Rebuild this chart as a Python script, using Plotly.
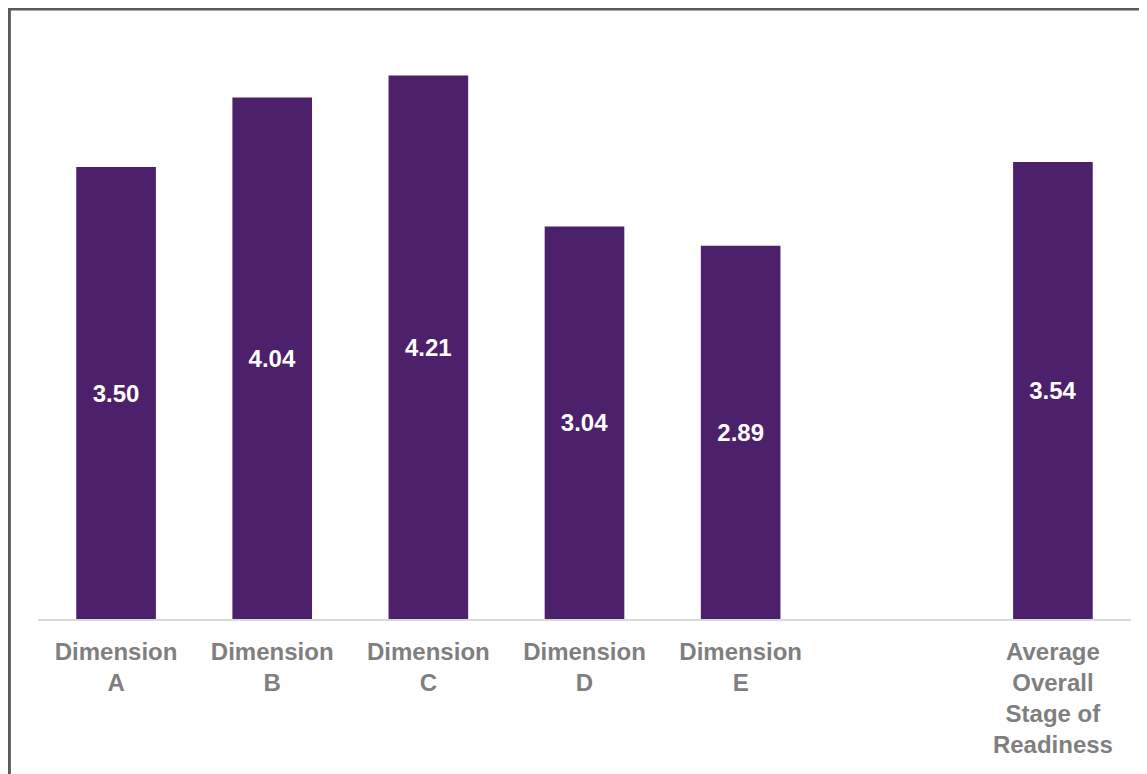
import plotly.graph_objects as go

categories = ["Dimension<br>A", "Dimension<br>B", "Dimension<br>C", "Dimension<br>D",
              "Dimension<br>E", " ", "Average<br>Overall<br>Stage of<br>Readiness"]
values = [3.50, 4.04, 4.21, 3.04, 2.89, None, 3.54]
labels = ["3.50", "4.04", "4.21", "3.04", "2.89", "", "3.54"]

fig = go.Figure(go.Bar(
    x=categories, y=values, text=labels,
    textposition="inside", insidetextanchor="middle",
    textfont=dict(family="Liberation Sans, Arial", size=24, color="white", weight="bold"),
    marker=dict(color="#4c206a", line=dict(width=0)),
    width=0.51, cliponaxis=False, hoverinfo="skip",
))

fig.update_layout(
    width=1147, height=774,
    margin=dict(l=30, r=24, t=30, b=163),
    paper_bgcolor="white", plot_bgcolor="white",
    showlegend=False,
    font=dict(family="Liberation Sans, Arial"),
    xaxis=dict(
        type="category", showgrid=False, ticks="", showline=True,
        linecolor="#d9d9d9", linewidth=2, ticklabelstandoff=10,
        tickfont=dict(family="Liberation Sans, Arial", size=24, color="#7f7f7f", weight="bold"),
    ),
    yaxis=dict(range=[0, 4.5], visible=False, showgrid=False, zeroline=False),
    shapes=[dict(
        type="rect", xref="paper", yref="paper",
        x0=-0.0262, x1=1.08, y0=-0.35, y1=1.0500,
        line=dict(color="#595959", width=3), fillcolor="rgba(0,0,0,0)", layer="above",
    )],
)

fig.write_html("out.html")
